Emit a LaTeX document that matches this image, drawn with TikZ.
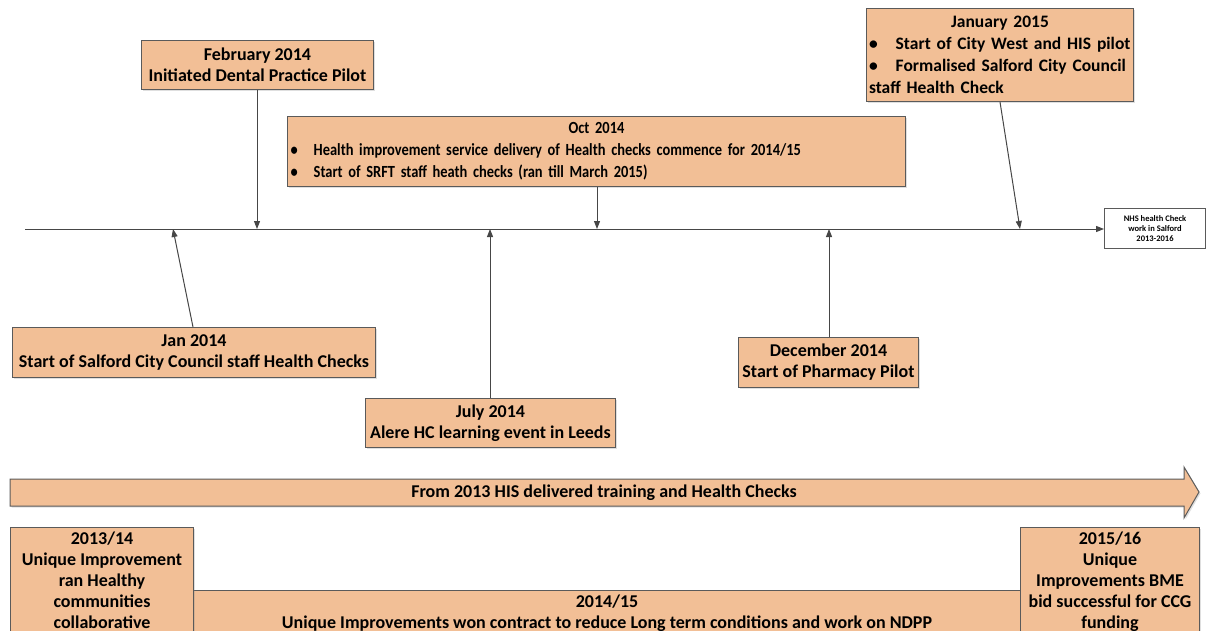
\documentclass[tikz,border=0pt]{standalone}
\usepackage{fontspec}
\setmainfont{Carlito}
\newfontfamily\octfont{Carlito}[FakeStretch=0.85]
\usetikzlibrary{arrows.meta,shadows}
\definecolor{peach}{RGB}{242,191,150}
\definecolor{edge}{RGB}{90,90,90}
\definecolor{con}{RGB}{70,70,70}
\tikzset{
  box/.style={draw=edge, fill=peach, line width=1pt, inner sep=2pt,
    font=\fontsize{18}{21}\selectfont\bfseries, align=center,
    drop shadow={shadow xshift=1.5pt, shadow yshift=-1.5pt, opacity=0.25}},
  conn/.style={draw=con, line width=1pt, -{Triangle[length=8pt,width=6pt]}},
  endbox/.style={draw=edge, fill=white, line width=1pt, inner sep=1pt,
    font=\fontsize{8.5}{10}\selectfont\bfseries, align=center}
}
\begin{document}
\begin{tikzpicture}[x=1pt,y=-1pt]
\useasboundingbox (0,0) rectangle (1206,631);
\clip (0,0) rectangle (1206,631);
% timeline
\node[endbox, minimum width=101pt, minimum height=40pt, anchor=north west] (nhs) at (1104,208) {NHS health Check\\work in Salford\\2013-2016};
\coordinate (tstart) at (25,229);
\draw[conn] (tstart) -- (nhs.west |- tstart);
\coordinate (t1) at (173,229);
\coordinate (t2) at (257,229);
\coordinate (t3) at (490,229);
\coordinate (t4) at (597,229);
\coordinate (t5) at (829,229);
\coordinate (t6) at (1020,229);
% top boxes
\node[box, minimum width=232pt, minimum height=49pt, anchor=north west] (feb) at (141,40) {February 2014\\Initiated Dental Practice Pilot};
\node[box, minimum width=618pt, minimum height=70pt, anchor=north west, align=left, text width=612pt,
  font=\octfont\fontsize{17}{22}\selectfont\bfseries] (oct) at (287,116)
  {\makebox[\linewidth][c]{Oct 2014}\\
   \textbullet\hspace{16pt}Health improvement service delivery of Health checks commence for 2014/15\\
   \textbullet\hspace{16pt}Start of SRFT staff heath checks (ran till March 2015)};
\node[box, minimum width=267pt, minimum height=93pt, anchor=north west, align=left, text width=262pt,
  font=\fontsize{17.5}{22}\selectfont\bfseries] (jan15) at (866,8)
  {\makebox[\linewidth][c]{January 2015}\\
   \textbullet\hspace{18pt}Start of City West and HIS pilot\\
   \textbullet\hspace{18pt}Formalised Salford City Council\\
   staff Health Check};
% bottom boxes
\node[box, minimum width=363pt, minimum height=50pt, anchor=north west] (jan14) at (12,327) {Jan 2014\\Start of Salford City Council staff Health Checks};
\node[box, minimum width=250pt, minimum height=49pt, anchor=north west] (jul14) at (365,398) {July 2014\\Alere HC learning event in Leeds};
\node[box, minimum width=180pt, minimum height=50pt, anchor=north west] (dec14) at (738,337) {December 2014\\Start of Pharmacy Pilot};
% connectors
\draw[conn] (feb.south -| t2) -- (t2);
\draw[conn] (oct.south -| t4) -- (t4);
\draw[conn] (jan15.south -| 1000,0) -- (t6);
\draw[conn] (jan14.north -| 193,0) -- (t1);
\draw[conn] (jul14.north -| t3) -- (t3);
\draw[conn] (dec14.north -| t5) -- (t5);
% big arrow
\draw[draw=edge, fill=peach, line width=1pt, drop shadow={shadow xshift=1.5pt, shadow yshift=-1.5pt, opacity=0.25}]
  (10,479) -- (1184,479) -- (1184,467) -- (1199,492) -- (1184,518) -- (1184,506) -- (10,506) -- cycle;
\node[font=\fontsize{18}{21}\selectfont\bfseries] (hisarrow) at (604,492.5) {From 2013 HIS delivered training and Health Checks};
% period boxes
\node[box, minimum width=827pt, anchor=north west, inner ysep=4pt] (p1415) at (193,590) {2014/15\\Unique Improvements won contract to reduce Long term conditions and work on NDPP};
\node[box, minimum width=183pt, anchor=north west, inner ysep=4pt] (p1314) at (10,527) {2013/14\\Unique Improvement\\ran Healthy\\communities\\collaborative};
\node[box, minimum width=179pt, anchor=north west, inner ysep=4pt] (p1516) at (1020,527) {2015/16\\Unique\\Improvements BME\\bid successful for CCG\\funding};
\end{tikzpicture}
\end{document}
